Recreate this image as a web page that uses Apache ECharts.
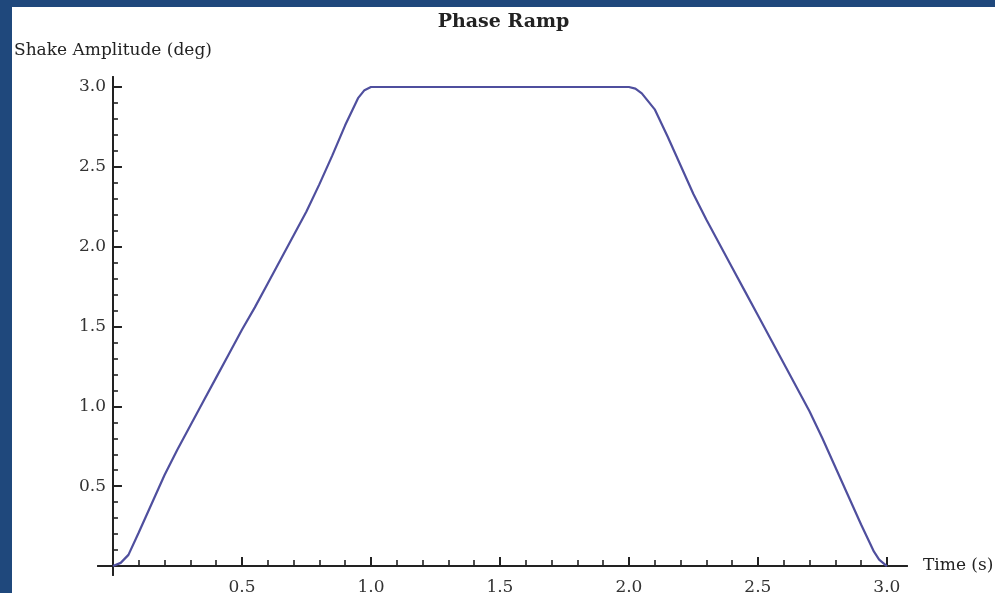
<!DOCTYPE html>
<html>
<head>
<meta charset="utf-8">
<script src="https://cdn.jsdelivr.net/npm/echarts@6/dist/echarts.min.js"></script>
<style>
  html, body { margin: 0; padding: 0; width: 995px; height: 593px; overflow: hidden; background: #1f487c; }
  #chart { position: absolute; left: 12px; top: 7px; width: 983px; height: 586px; background: #ffffff; }
</style>
</head>
<body>
<div id="chart"></div>
<script>
// Ramp profile: time (s) and shake amplitude (deg)
const timeValues = [
  0, 0.03, 0.06, 0.1, 0.15, 0.2, 0.25, 0.3, 0.35, 0.4, 0.45, 0.5, 0.55, 0.6, 0.65, 0.7,
  0.75, 0.8, 0.85, 0.9, 0.95, 0.975, 1.0, 1.5, 2.0, 2.025, 2.05, 2.1, 2.15, 2.2, 2.25,
  2.3, 2.35, 2.4, 2.45, 2.5, 2.55, 2.6, 2.65, 2.7, 2.75, 2.8, 2.85, 2.9, 2.95, 2.97, 3.0
];
const amplitudeValues = [
  0, 0.02, 0.07, 0.21, 0.39, 0.57, 0.73, 0.88, 1.03, 1.18, 1.33, 1.48, 1.62, 1.77, 1.92, 2.07,
  2.22, 2.39, 2.57, 2.76, 2.93, 2.98, 3.0, 3.0, 3.0, 2.99, 2.96, 2.86, 2.69, 2.51, 2.33,
  2.17, 2.02, 1.87, 1.72, 1.57, 1.42, 1.27, 1.12, 0.97, 0.80, 0.62, 0.44, 0.26, 0.09, 0.04, 0
];

// Tick positions
const xMajorTicks = [0.5, 1.0, 1.5, 2.0, 2.5, 3.0];
const xMinorTicks = [0.1, 0.2, 0.3, 0.4, 0.6, 0.7, 0.8, 0.9, 1.1, 1.2, 1.3, 1.4,
                     1.6, 1.7, 1.8, 1.9, 2.1, 2.2, 2.3, 2.4, 2.6, 2.7, 2.8, 2.9];
const yMajorTicks = [0.5, 1.0, 1.5, 2.0, 2.5, 3.0];
const yMinorTicks = [0.1, 0.2, 0.3, 0.4, 0.6, 0.7, 0.8, 0.9, 1.1, 1.2, 1.3, 1.4,
                     1.6, 1.7, 1.8, 1.9, 2.1, 2.2, 2.3, 2.4, 2.6, 2.7, 2.8, 2.9];

const FONT = 'DejaVu Serif';
const AXIS_COLOR = '#222222';
const X_RANGE = { min: -0.058, max: 3.078 };
const Y_RANGE = { min: -0.056, max: 3.0625 };

const points = timeValues.map((t, i) => [t, amplitudeValues[i]]);

const axisLineStyle = { show: true, onZero: true, lineStyle: { color: AXIS_COLOR, width: 2 } };

const chart = echarts.init(document.getElementById('chart'), null, { renderer: 'canvas' });

chart.setOption({
  animation: false,
  backgroundColor: '#ffffff',
  title: {
    text: 'Phase Ramp',
    left: 'center',
    top: 6,
    padding: 0,
    textStyle: { fontFamily: FONT, fontSize: 19, fontWeight: 'bold', color: '#222222' }
  },
  grid: { left: 86, right: 88, top: 70, bottom: 18, containLabel: false, outerBoundsMode: 'none' },
  xAxis: [
    {
      type: 'value',
      ...X_RANGE,
      position: 'bottom',
      name: 'Time (s)',
      nameLocation: 'end',
      nameGap: 16,
      nameTextStyle: { fontFamily: FONT, fontSize: 17, color: '#222222' },
      axisLine: { ...axisLineStyle, onZeroAxisIndex: 0 },
      axisTick: { show: true, inside: true, length: 9, customValues: xMajorTicks,
                  lineStyle: { color: AXIS_COLOR, width: 2 } },
      axisLabel: { show: true, customValues: xMajorTicks, margin: 4, lineHeight: 17,
                   formatter: v => v.toFixed(1),
                   fontFamily: FONT, fontSize: 17, color: '#333333' },
      splitLine: { show: false }
    },
    {
      type: 'value',
      ...X_RANGE,
      position: 'bottom',
      axisLine: { ...axisLineStyle, onZeroAxisIndex: 1 },
      axisTick: { show: true, inside: true, length: 6, customValues: xMinorTicks,
                  lineStyle: { color: AXIS_COLOR, width: 1.6 } },
      axisLabel: { show: false },
      splitLine: { show: false }
    }
  ],
  yAxis: [
    {
      type: 'value',
      ...Y_RANGE,
      position: 'left',
      name: 'Shake Amplitude (deg)',
      nameLocation: 'end',
      nameGap: 18,
      nameTextStyle: { fontFamily: FONT, fontSize: 17, color: '#222222' },
      axisLine: { ...axisLineStyle, onZeroAxisIndex: 0 },
      axisTick: { show: true, inside: true, length: 9, customValues: yMajorTicks,
                  lineStyle: { color: AXIS_COLOR, width: 2 } },
      axisLabel: { show: true, customValues: yMajorTicks, margin: -8,
                   formatter: v => v.toFixed(1),
                   fontFamily: FONT, fontSize: 17, color: '#333333' },
      splitLine: { show: false }
    },
    {
      type: 'value',
      ...Y_RANGE,
      position: 'left',
      axisLine: { ...axisLineStyle, onZeroAxisIndex: 1 },
      axisTick: { show: true, inside: true, length: 5, customValues: yMinorTicks,
                  lineStyle: { color: AXIS_COLOR, width: 1.6 } },
      axisLabel: { show: false },
      splitLine: { show: false }
    }
  ],
  series: [
    {
      type: 'line',
      xAxisIndex: 0,
      yAxisIndex: 0,
      data: points,
      showSymbol: false,
      smooth: false,
      lineStyle: { color: '#4f4f9e', width: 2.2 },
      clip: false
    }
  ]
});
</script>
</body>
</html>
